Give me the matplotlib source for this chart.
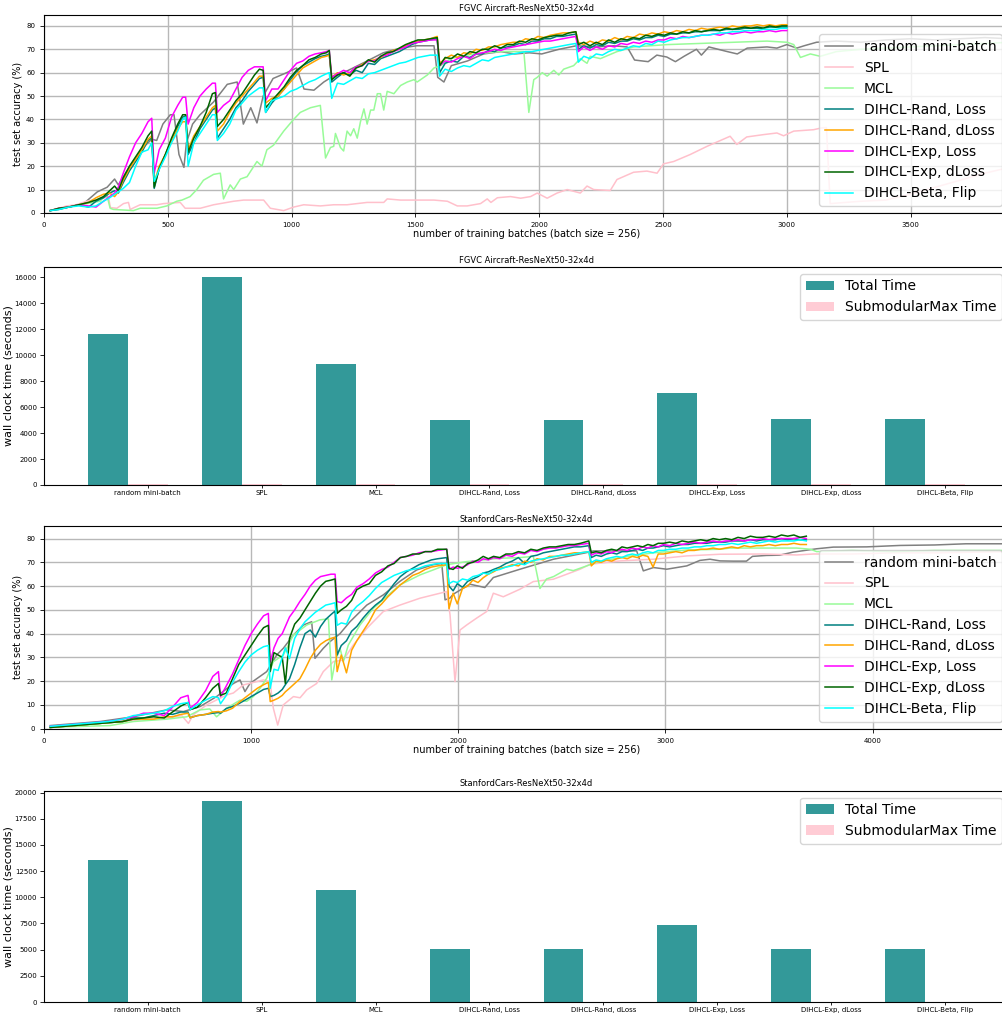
import matplotlib
matplotlib.use('Agg')
import matplotlib.pyplot as plt
import numpy as np

methods = ['random mini-batch', 'SPL', 'MCL', 'DIHCL-Rand, Loss', 'DIHCL-Rand, dLoss',
           'DIHCL-Exp, Loss', 'DIHCL-Exp, dLoss', 'DIHCL-Beta, Flip']
colors = ['grey', 'pink', 'palegreen', 'teal', 'orange', 'magenta', 'darkgreen', 'cyan']

# ---------------- FGVC Aircraft accuracy curves ----------------
air_rand_x = [25, 100, 160, 215, 255, 285, 300, 335, 360, 400, 435, 455, 480, 510, 525, 545, 565, 575, 600, 630,
              685, 740, 780, 805, 835, 860, 885, 925, 980, 1020, 1050, 1090, 1130, 1160, 1210, 1305, 1370, 1440, 1505, 1575,
              1590, 1615, 1645, 1710, 1775, 1845, 1900, 1960, 2010, 2080, 2150, 2230, 2300, 2355, 2385, 2440, 2475, 2515, 2550, 2585,
              2635, 2655, 2685, 2760, 2800, 2840, 2920, 2960, 3000, 3040, 3070, 3120, 3200, 3300, 3400, 3500, 3600, 3700, 3800, 3900]
air_rand_y = [1, 2.5, 4, 9, 11, 14.5, 12, 18, 22, 28, 31.5, 31, 38, 42, 42, 25, 19.5, 30, 38, 42,
              47.5, 55, 56, 38, 45, 38.5, 50, 57.5, 60, 62, 53, 52.5, 56, 58, 60, 65, 68.5, 70.5, 71.5, 71.5,
              58, 56, 63, 65, 68, 69, 68, 68.5, 68, 70, 71.5, 71, 71.5, 71, 65.4, 64.7, 67.5, 66.7, 64.7, 67,
              70, 67.5, 71, 69, 68, 70.5, 71, 70.5, 72, 70.5, 71.5, 73, 73.5, 73, 74, 74.5, 74, 74.5, 75, 74.5]

air_spl_x = [25, 60, 92, 130, 172, 226, 260, 268, 294, 321, 341, 348, 388, 456, 483, 550, 570, 631, 685, 766,
             806, 887, 914, 968, 1008, 1049, 1116, 1170, 1224, 1305, 1372, 1386, 1440, 1575, 1629, 1669, 1709, 1763, 1790, 1805,
             1831, 1884, 1925, 1965, 1992, 2032, 2072, 2113, 2166, 2193, 2220, 2287, 2314, 2381, 2435, 2476, 2502, 2543, 2610, 2678,
             2771, 2798, 2838, 2906, 2960, 2987, 3028, 3108, 3142, 3160, 3175, 3300, 3400, 3500, 3600, 3700, 3800, 3900]
air_spl_y = [1, 2, 3, 3.5, 5, 6, 7, 2.3, 2, 4, 4.5, 1.5, 3.5, 3.5, 4, 4.5, 2, 2, 3.5, 5,
             5.5, 5.5, 2, 1, 2.5, 3.5, 3, 3.5, 3.5, 4.5, 4.5, 6, 5.5, 5.5, 5, 3, 3, 4, 6, 4.5,
             6.5, 7, 6.3, 7, 8.5, 6.3, 8.5, 10, 8.5, 11.5, 10, 9.6, 14.3, 17.4, 17.9, 17, 21, 22, 25, 28.5,
             32.8, 29.3, 32.5, 33.5, 34.2, 33, 35, 35.6, 36.4, 36.5, 4, 5, 5.5, 8, 11, 14, 17, 19.5]

air_mcl_x = [25, 172, 226, 253, 267, 280, 361, 388, 456, 496, 536, 557, 590, 617, 644, 685, 712, 725, 752, 766,
             793, 820, 860, 880, 900, 927, 968, 1008, 1035, 1076, 1116, 1137, 1157, 1170, 1177, 1197, 1210, 1224, 1238, 1251,
             1265, 1278, 1292, 1305, 1319, 1332, 1346, 1359, 1372, 1386, 1413, 1440, 1467, 1494, 1507, 1548, 1575, 1602, 1642, 1682,
             1736, 1790, 1844, 1938, 1958, 1978, 1992, 2012, 2032, 2059, 2079, 2099, 2139, 2166, 2193, 2206, 2247, 2314, 2381, 2516,
             2651, 2786, 2920, 3001, 3028, 3055, 3095, 3135, 3200, 3300, 3400, 3500, 3600, 3700, 3800, 3900]
air_mcl_y = [1, 4, 5, 8, 2, 1.5, 1, 2, 2, 3, 5, 5.5, 7, 10, 14, 16.5, 17, 6, 12, 10,
             14.5, 15.5, 22, 20, 27, 29, 35, 40, 43, 45, 46, 23.5, 28, 28.5, 34, 28, 26.5, 35, 33, 36,
             32, 39, 44.5, 38, 44, 44, 51, 51, 44, 52, 51, 54.5, 56, 57, 56, 59, 62, 63, 66, 67,
             68, 68.5, 69, 69, 43, 57, 58, 60, 58.5, 61, 59, 61.5, 63, 66, 64, 67, 66, 69, 71, 72,
             72.5, 73, 73.5, 73, 72, 66.5, 68, 67, 69, 70, 70.5, 71, 71.5, 72, 72.5, 73]

# shared batch grid of the DIHCL runs
air_dihcl_x = [25, 60, 100, 140, 180, 210, 240, 265, 285, 300,
               320, 345, 370, 395, 420, 435, 445, 465, 490, 515,
               540, 560, 572, 582, 605, 630, 655, 680, 692, 700,
               725, 750, 775, 800, 825, 850, 870, 885, 895, 920,
               945, 970, 995, 1020, 1045, 1070, 1095, 1120, 1140, 1152,
               1162, 1185, 1210, 1235, 1260, 1285, 1310, 1335, 1360, 1385,
               1410, 1435, 1460, 1485, 1510, 1535, 1560, 1588, 1598, 1620,
               1645, 1670, 1695, 1720, 1745, 1770, 1795, 1820, 1845, 1870,
               1895, 1920, 1945, 1970, 1995, 2020, 2045, 2070, 2095, 2120,
               2148, 2158, 2180, 2205, 2230, 2255, 2280, 2305, 2330, 2355,
               2380, 2405, 2430, 2455, 2480, 2505, 2530, 2555, 2580, 2605,
               2630, 2655, 2680, 2705, 2730, 2755, 2780, 2805, 2830, 2855,
               2880, 2905, 2930, 2955, 2980, 3000]
air_rl_y = [1, 1.5, 2.5, 3.5, 2.5, 5, 6.5, 8.5, 9.5, 8.5,
            13, 18, 22, 26, 31, 32, 10.5, 19, 25, 31,
            37, 41, 41.5, 25, 30, 36, 40, 44, 45, 32,
            36, 40, 45, 48, 52, 55, 57.5, 58, 43, 47,
            50, 53, 57, 60.5, 63, 64.5, 66, 67, 67.5, 68,
            56, 58, 60, 59, 61, 60, 64, 63.5, 66, 67,
            68, 69, 70.5, 72, 73, 73.5, 74, 74.5, 60, 64,
            65, 64.5, 67, 66.5, 68, 68, 69.5, 69, 70.5, 71,
            71.5, 72.5, 72, 73.5, 73.5, 74.5, 74.5, 75.5, 75.5, 76,
            76.5, 70, 71.5, 70.5, 72, 71.5, 73, 72.5, 73.5, 73.5,
            74.5, 74, 75, 75, 76, 75.5, 76.5, 76.5, 77, 77,
            77.5, 77.5, 78, 78, 78, 78.5, 78.5, 78.5, 79, 79,
            79, 79, 79.5, 79.5, 79.5, 79.5]
air_rd_y = [1, 2, 2.5, 3.5, 4.5, 6.5, 8, 8.5, 7, 9,
            14, 19, 23, 27, 31.5, 33, 13, 20, 25, 31,
            36, 39, 39, 27, 33, 37, 41, 45, 46, 35,
            38, 43, 47, 50, 53, 56, 58.5, 58.5, 47, 49,
            50, 53, 56, 59, 62, 63.5, 65, 66.5, 67, 67.5,
            58, 60, 59, 60, 62, 63.5, 65, 65.5, 66.5, 68,
            69.5, 70, 71.5, 73, 73.5, 74, 74.5, 75.5, 64, 66,
            67.5, 66.5, 68.5, 68, 70, 69.5, 71, 71, 72, 72.5,
            73, 73, 74.5, 74, 75.5, 75, 76, 76.5, 77, 77,
            77.5, 73, 72, 73.5, 72.5, 74, 73.5, 75, 74, 75.5,
            75, 76.5, 76, 77, 76.5, 77.5, 77, 78, 77.5, 78.5,
            78, 79, 78.5, 79, 79.5, 79, 80, 79.5, 80, 80,
            80.5, 80, 80.5, 80, 80.5, 80.5]
air_el_y = [1, 2, 2.5, 3.5, 3, 2.5, 5, 7, 8.5, 11,
            17, 24, 30, 34, 39, 40.5, 17, 27, 32, 41,
            46, 49.5, 49.5, 38, 45, 50, 53, 55.5, 55.5, 43,
            46, 48, 53, 58, 61, 62.5, 62.5, 62.5, 48, 53,
            53, 57, 61, 64, 65, 67, 68, 68.5, 69, 69.5,
            58, 59.5, 61, 60, 62.5, 63, 65, 65, 67, 67.5,
            69, 70, 71, 72.5, 73, 73.5, 74, 74, 63, 65,
            64.5, 66, 67, 66, 68, 68.5, 69, 70, 69.5, 70.5,
            71, 71.5, 72, 72.5, 73, 73.5, 73.5, 74, 74.5, 75,
            75.5, 69, 71, 69.5, 71, 70, 71.5, 71, 72.5, 72,
            73, 72.5, 73.5, 73, 74, 74, 75, 74.5, 75.5, 75,
            75.5, 76, 76, 76.5, 76, 77, 76.5, 77, 77.5, 77,
            77.5, 77.5, 78, 77.5, 78, 78]
air_ed_y = [1, 2, 2.5, 3.5, 4.5, 5.5, 7, 9.5, 11.5, 9.5,
            15, 20, 24, 28, 33, 35, 11, 19, 25, 32,
            38, 42, 42, 26, 32, 37, 43, 51, 51.5, 37,
            40, 44, 48, 51, 55, 59, 61.5, 61, 45, 48,
            51, 54, 58, 61, 63, 65.5, 66.5, 68, 68.5, 69.5,
            57, 59, 60, 58.5, 62, 63, 65.5, 64.5, 67, 68.5,
            69, 70.5, 72, 73, 74, 74, 74.5, 75, 63, 66.5,
            66, 68, 67, 69, 68.5, 70, 70, 71.5, 70.5, 72,
            72, 73.5, 73, 74.5, 74, 75, 75.5, 76, 76, 77,
            77.5, 72, 73, 71.5, 73, 72, 74, 73, 74.5, 74,
            75, 74.5, 76, 75.5, 76.5, 76, 77, 76.5, 77.5, 77,
            78, 77.5, 78, 78.5, 78, 79, 78.5, 79, 79.5, 79,
            79.5, 79, 80, 79.5, 80, 80]
air_bf_y = [1, 1.5, 2.5, 3, 2.5, 3, 5, 6.5, 8, 9,
            10.5, 13, 20, 26, 27, 30, 13.5, 18.5, 24, 30,
            35, 40, 41, 20, 30, 34, 38, 42, 42, 31,
            34, 38, 44, 47, 50, 52, 53.5, 53.5, 43, 48,
            49, 50, 52, 53, 54.5, 56, 57, 58.5, 59.5, 60,
            49, 55.5, 55, 56.5, 58, 57.5, 59.5, 60, 61, 62,
            63, 64, 64.5, 65.5, 66.5, 67, 67.5, 67.5, 58.5, 61.5,
            60.5, 62, 63, 62.5, 64, 65.5, 65, 66.5, 67, 67.5,
            68, 68.5, 69, 69, 69.5, 70, 70.5, 71, 71.5, 72,
            72.5, 64.5, 67, 66, 68, 67.5, 69, 70, 69.5, 70.5,
            71.5, 71, 72.5, 72, 73.5, 73, 74, 74.5, 75, 75,
            75.5, 76, 76, 76.5, 77, 77, 77.5, 77.5, 78, 78,
            78, 78.5, 78.5, 78.5, 79, 79]

# ---------------- Stanford Cars accuracy curves ----------------
car_rand_x = [30, 270, 431, 592, 673, 753, 833, 914, 946, 970, 994, 1075, 1123, 1155, 1204, 1252, 1292, 1308, 1348, 1380,
              1429, 1477, 1558, 1638, 1718, 1799, 1879, 1920, 1936, 1960, 1976, 2056, 2128, 2169, 2298, 2459, 2620, 2652, 2861, 2893,
              2942, 3006, 3103, 3166, 3215, 3263, 3327, 3391, 3420, 3488, 3550, 3617, 3730, 3810, 3971, 4132, 4300, 4450, 4660]
car_rand_y = [1.3, 3, 5, 7.9, 7.2, 9.3, 13.5, 19, 20.5, 15.6, 19, 24, 31, 33.8, 39.4, 43.6, 45, 29.6, 33.8, 36.6,
              40, 45, 52, 56.3, 62, 66.8, 69, 69.5, 54.2, 55, 56.6, 60.8, 59.4, 63.6, 67.1, 71.3, 74.1, 74.8, 74.8, 66.4,
              67.8, 67.1, 68.5, 70.8, 71.3, 70.6, 70.5, 70.5, 72.5, 72.9, 73, 74.3, 75.7, 76.4, 76.5, 77.1, 77.3, 77.8, 77.8]

car_spl_x = [30, 270, 431, 592, 665, 697, 720, 785, 882, 914, 962, 1059, 1091, 1107, 1128, 1155, 1204, 1236, 1268, 1316,
             1348, 1397, 1445, 1493, 1558, 1638, 1718, 1815, 1912, 1944, 1960, 1984, 2008, 2040, 2088, 2137, 2169, 2217, 2298, 2362,
             2459, 2588, 2636, 2781, 2942, 3103, 3263, 3472, 3633, 3714, 3900, 4100, 4300, 4660]
car_spl_y = [0.6, 2.2, 3.5, 4.4, 5.5, 2.2, 5.8, 10, 14.2, 15, 18.4, 20.5, 19.8, 8.6, 1.5, 10, 13.5, 13, 16.3, 19,
             24, 28.2, 28.9, 35.2, 42.2, 49.3, 52, 54.9, 57, 57.7, 47.9, 19.8, 41.5, 43.6, 46.5, 49.3, 57, 55.5, 58.7, 61.9,
             62.9, 67.1, 69.2, 70.6, 71.3, 72.7, 73.4, 73.5, 73.1, 73.5, 73.5, 74, 74, 74.5]

car_mcl_x = [30, 319, 431, 592, 689, 753, 800, 833, 882, 946, 978, 1010, 1043, 1075, 1107, 1155, 1204, 1268, 1332, 1373,
             1389, 1405, 1429, 1445, 1469, 1525, 1590, 1654, 1718, 1815, 1879, 1944, 2040, 2201, 2298, 2362, 2394, 2426, 2460, 2523,
             2555, 2620, 2668, 2781, 2942, 3103, 3263, 3311, 3472, 3633, 3700, 3730, 3900, 4100, 4300, 4660]
car_mcl_y = [0.6, 1.3, 3, 4, 5, 7.9, 8.3, 5, 8.6, 12, 11.5, 13.5, 17, 21.2, 28.2, 31, 39.4, 43.6, 45.8, 46.2,
             20.5, 28.2, 33.8, 28.2, 35.2, 43.6, 50.7, 55.6, 60.5, 64.7, 66.8, 69, 70.3, 71.7, 72, 72.5, 59, 63, 64, 67.1,
             66.5, 68.5, 70, 72, 74, 75.2, 75.5, 76, 76, 76, 75.5, 74.5, 75, 74.5, 75, 75]

car_dihcl_x = [30, 100, 170, 240, 310, 380, 430, 480, 530, 580,
               620, 660, 695, 705, 740, 780, 815, 842, 852, 880,
               910, 940, 970, 1000, 1030, 1060, 1083, 1092, 1110, 1130,
               1150, 1165, 1185, 1210, 1235, 1260, 1285, 1310, 1335, 1360,
               1385, 1405, 1415, 1435, 1460, 1485, 1510, 1540, 1570, 1600,
               1630, 1660, 1690, 1720, 1750, 1780, 1810, 1840, 1870, 1900,
               1944, 1955, 1975, 1995, 2020, 2045, 2070, 2095, 2120, 2145,
               2170, 2200, 2230, 2260, 2290, 2320, 2350, 2380, 2410, 2440,
               2470, 2500, 2530, 2560, 2590, 2630, 2642, 2665, 2690, 2715,
               2740, 2765, 2790, 2815, 2840, 2865, 2890, 2915, 2940, 2965,
               2990, 3020, 3050, 3080, 3110, 3140, 3170, 3200, 3230, 3260,
               3290, 3320, 3350, 3380, 3410, 3440, 3470, 3500, 3530, 3560,
               3590, 3620, 3650, 3680]
car_rl_y = [0.5, 1, 1.5, 2, 2.5, 3, 4.5, 4.5, 5.5, 6.5,
            6, 7, 7, 4.6, 5.5, 6, 6.5, 6.8, 6.5, 8.5,
            9.3, 10.5, 12, 13.5, 15, 16.5, 17, 13.5, 14, 15,
            16.5, 18.5, 21, 27, 34, 40, 41.5, 38.5, 43, 46,
            48, 49.5, 31, 35, 37, 41, 43, 46.5, 49.5, 52,
            54, 57.5, 61, 64, 66, 67.5, 69, 70, 71, 71.5,
            72, 60, 58, 61, 59.5, 62, 63, 64, 65.5, 66,
            67, 68, 69.5, 70.5, 72, 69.5, 72.5, 73, 74, 74.5,
            75, 75.5, 76, 76.5, 76.5, 77, 72, 73, 72.5, 73.5,
            74, 73.5, 74.5, 74.5, 75, 75.5, 75, 76, 76, 76.5,
            77, 76.5, 77, 77.5, 77.5, 78, 78, 78, 78.5, 78.5,
            78.5, 79, 79, 79, 79.5, 79, 79.5, 79.5, 79.5, 80,
            79.5, 80, 79.5, 79.5]
car_rd_y = [0.5, 1, 1.5, 2, 2.5, 3, 4, 4, 4, 5,
            5, 6, 6.5, 4.6, 5.5, 6, 7, 7.2, 7, 7.5,
            8.6, 11, 13, 15, 17, 18.5, 19.5, 11.4, 12, 12.8,
            14, 15.5, 17, 19, 21, 25, 29.5, 33, 35.5, 37,
            38, 38.5, 24, 31, 23.5, 33, 37, 41, 45, 50,
            52.5, 55.5, 58, 60.5, 62.5, 64.5, 65.5, 67, 68, 68.5,
            69, 50.5, 57, 52.5, 59, 60, 62.5, 61.5, 63.5, 65,
            66, 67.5, 68, 69, 68.5, 70.5, 70, 71.5, 71, 72.5,
            72.5, 73, 73.5, 74, 74, 74.5, 68.5, 70.5, 70, 71,
            70.5, 71.5, 72, 71.5, 72.5, 72, 73, 72.5, 68, 73.5,
            73.5, 74, 74.5, 74, 75, 75, 75.5, 75.5, 76, 75.5,
            76, 76.5, 76, 77, 76.5, 77, 77, 77.5, 77, 77.5,
            77.5, 78, 77.5, 77.5]
car_el_y = [1, 1.5, 2, 2.5, 3, 4, 5, 6.5, 6.5, 5.5,
            9, 13, 14, 8.6, 11, 16, 22, 24, 13.5, 18,
            23, 29, 35, 40, 44, 47.5, 48.5, 28, 34, 38,
            40, 43, 47, 50, 53.5, 56.5, 60, 62.5, 64, 64.5,
            65, 65, 53.5, 53, 55, 56.5, 59.5, 61, 63, 65.5,
            67, 68, 70, 72, 72.5, 73, 74, 74.5, 74.5, 75,
            75.5, 67, 68, 67.5, 68, 69, 70.5, 70, 71.5, 71,
            72, 71.5, 73, 72.5, 74, 73.5, 75, 74.5, 75.5, 76,
            76, 76.5, 77, 77, 77.5, 78, 73, 74, 73.5, 74.5,
            74, 75, 75.5, 75, 76, 75.5, 76.5, 76, 77, 76.5,
            77.5, 77, 78, 77.5, 78, 78.5, 78, 78.5, 79, 78.5,
            79, 79, 79.5, 79, 79.5, 79.5, 80, 79.5, 80, 80,
            80, 80, 80.5, 80]
car_ed_y = [0.5, 1, 1.5, 2, 2.5, 3, 4, 4.5, 5, 4.5,
            7, 9.5, 11, 8, 9, 13, 17, 19, 14, 15,
            21, 27, 31, 35, 39, 42.5, 43.5, 24, 32, 31,
            30, 19, 38, 44, 46.5, 50, 53.5, 57, 60, 62,
            62.5, 63, 48.5, 50, 51.5, 54, 58.5, 60, 61, 64.5,
            66, 68.5, 69.5, 72, 72.5, 73.5, 73.5, 74.5, 74.5, 75.5,
            75.5, 67.5, 67, 68.5, 67.5, 69.5, 70, 71, 72.5, 71.5,
            72.5, 72, 73.5, 73.5, 74.5, 74, 75.5, 75, 76, 76.5,
            76.5, 77, 77.5, 77.5, 78, 79, 74, 74.5, 74, 75,
            75.5, 75, 76.5, 76, 76.5, 77, 76.5, 77.5, 77, 78,
            78, 78.5, 78, 79, 78.5, 79, 79.5, 79, 80, 79.5,
            80, 79.5, 80.5, 80, 81, 80.5, 80.5, 81, 80.5, 81.5,
            81, 81.5, 80.5, 81]
car_bf_y = [1, 1.5, 2, 2.5, 3, 4, 5.5, 6, 6.5, 7.5,
            9.3, 10.5, 11, 8, 10, 12, 13.5, 13, 10.5, 14,
            19.5, 24, 28, 31, 33, 34.5, 35, 17, 25, 24.5,
            30, 34, 29.5, 38, 42, 45, 47, 49, 50.5, 52,
            52.5, 53, 43.5, 44.5, 44, 49, 51.5, 53.5, 56, 59,
            61.5, 63, 64.5, 65.5, 66.5, 67, 67.5, 68.5, 69, 69.5,
            69.5, 61, 62, 61.5, 63, 62.5, 64, 64.5, 65.5, 65,
            66.5, 67, 68, 68.5, 69.5, 69, 70.5, 71, 71.5, 72,
            72.5, 73, 73, 73.5, 74, 74.5, 70, 71, 70.5, 71.5,
            72, 72.5, 72, 73, 73.5, 73, 74, 74.5, 74, 75,
            75, 75.5, 75.5, 76, 76, 76.5, 76.5, 77, 77, 77.5,
            77.5, 78, 77.5, 78, 78.5, 78, 78.5, 79, 78.5, 79,
            79, 79, 79.5, 79]

# ---------------- wall clock times ----------------
air_total_time = [11600, 16000, 9290, 5030, 5030, 7120, 5110, 5110]
air_submod_time = [40, 40, 40, 40, 40, 40, 40, 40]
car_total_time = [13580, 19220, 10660, 5110, 5020, 7370, 5110, 5110]
car_submod_time = [40, 40, 40, 40, 40, 40, 40, 40]

air_series = [(air_rand_x, air_rand_y), (air_spl_x, air_spl_y), (air_mcl_x, air_mcl_y),
              (air_dihcl_x, air_rl_y), (air_dihcl_x, air_rd_y), (air_dihcl_x, air_el_y),
              (air_dihcl_x, air_ed_y), (air_dihcl_x, air_bf_y)]
car_series = [(car_rand_x, car_rand_y), (car_spl_x, car_spl_y), (car_mcl_x, car_mcl_y),
              (car_dihcl_x, car_rl_y), (car_dihcl_x, car_rd_y), (car_dihcl_x, car_el_y),
              (car_dihcl_x, car_ed_y), (car_dihcl_x, car_bf_y)]

fig = plt.figure(figsize=(10.03, 10.14), dpi=100)
L, W = 0.0439, 0.962
ax1 = fig.add_axes([L, 0.790, W, 0.1953])
ax2 = fig.add_axes([L, 0.5217, W, 0.215])
ax3 = fig.add_axes([L, 0.2814, W, 0.1999])
ax4 = fig.add_axes([L, 0.0118, W, 0.2085])


def line_panel(ax, series, title, xmax, ytop):
    for (x, y), name, c in zip(series, methods, colors):
        ax.plot(x, y, color=c, lw=1.1, label=name)
    ax.set_xlim(0, xmax)
    ax.set_ylim(0, ytop)
    ax.set_yticks(np.arange(0, 81, 10))
    ax.grid(True, color='#b8b8b8', lw=1.0)
    ax.set_axisbelow(True)
    ax.tick_params(labelsize=5, length=3, width=0.6)
    ax.set_xlabel('number of training batches (batch size = 256)', fontsize=7, labelpad=1)
    ax.set_ylabel('test set accuracy (%)', fontsize=7, labelpad=2)
    ax.set_title(title, fontsize=6, pad=3)
    ax.legend(loc='lower right', fontsize=10)


def bar_panel(ax, total, submod, title):
    idx = np.arange(len(methods))
    w = 0.35
    ax.bar(idx - w, total, w, color='teal', alpha=0.8, label='Total Time')
    ax.bar(idx, submod, w, color='pink', alpha=0.8, label='SubmodularMax Time')
    ax.set_xticks(idx)
    ax.set_xticklabels(methods)
    ax.tick_params(axis='y', labelsize=5, length=3, width=0.6, pad=2)
    ax.tick_params(axis='x', labelsize=5, length=2, width=0.6, pad=1.5)
    ax.set_ylabel('wall clock time (seconds)', fontsize=8, labelpad=1)
    ax.set_title(title, fontsize=6, pad=3)
    ax.legend(loc='upper right', fontsize=10)


line_panel(ax1, air_series, 'FGVC Aircraft-ResNeXt50-32x4d', 3897, 84.7)
bar_panel(ax2, air_total_time, air_submod_time, 'FGVC Aircraft-ResNeXt50-32x4d')
line_panel(ax3, car_series, 'StanfordCars-ResNeXt50-32x4d', 4658, 85.3)
bar_panel(ax4, car_total_time, car_submod_time, 'StanfordCars-ResNeXt50-32x4d')

fig.savefig('out.png', dpi=100)
